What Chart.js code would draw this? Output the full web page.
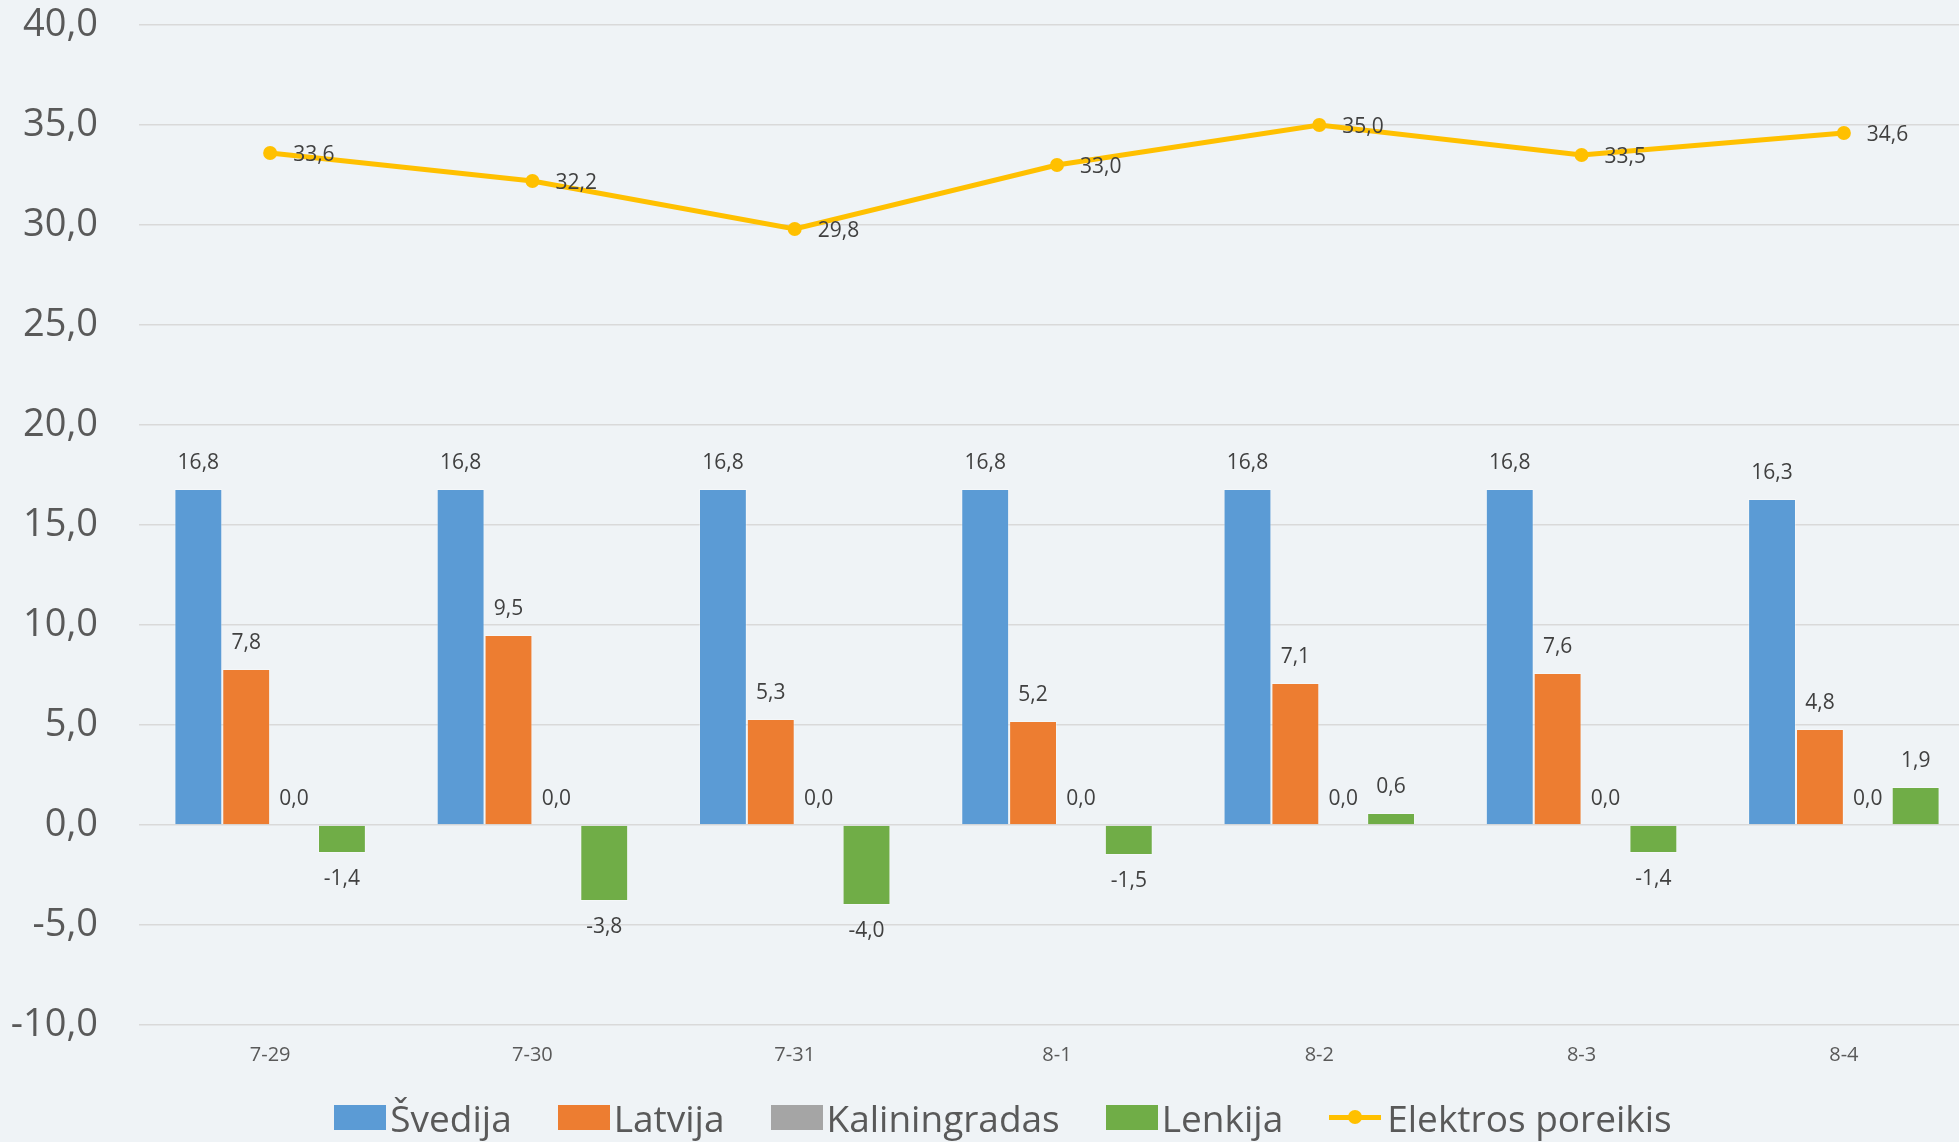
<!DOCTYPE html>
<html>
<head>
<meta charset="utf-8">
<script src="https://cdn.jsdelivr.net/npm/chart.js@4"></script>
<style>
html,body{margin:0;padding:0;background:#EFF3F6;overflow:hidden;width:1959px;height:1142px;}
#wrap{position:absolute;left:0;top:0;width:2006px;height:1142px;}
#legend{position:absolute;left:0;top:1092px;width:2006px;height:50px;display:flex;justify-content:center;align-items:center;font-family:"Open Sans",sans-serif;font-size:37px;color:#595959;white-space:nowrap;}
.item{display:flex;align-items:center;margin:0 23px;}
.box{display:inline-block;width:52px;height:25px;margin-right:4px;}
.linebox{position:relative;display:inline-block;width:52px;height:25px;margin-right:6px;}
.linebox .ln{position:absolute;left:0;top:10px;width:52px;height:5px;background:#FFC000;}
.linebox .pt{position:absolute;left:19px;top:5px;width:14px;height:14px;border-radius:50%;background:#FFC000;}
</style>
</head>
<body>
<div id="wrap"><canvas id="c"></canvas></div>
<div id="legend"></div>
<script>
const categories = ['7-29','7-30','7-31','8-1','8-2','8-3','8-4'];
const svedija = [16.8,16.8,16.8,16.8,16.8,16.8,16.3];
const latvija = [7.8,9.5,5.3,5.2,7.1,7.6,4.8];
const kaliningradas = [0,0,0,0,0,0,0];
const lenkija = [-1.4,-3.8,-4.0,-1.5,0.6,-1.4,1.9];
const poreikis = [33.6,32.2,29.8,33.0,35.0,33.5,34.6];
const seriesNames = ['Švedija','Latvija','Kaliningradas','Lenkija','Elektros poreikis'];
const seriesColors = ['#5B9BD5','#ED7D31','#A5A5A5','#70AD47','#FFC000'];
const yMin = -10, yMax = 40, yStep = 5;

const fmt = v => v.toFixed(1).replace('.', ',');
const FONT = '"Open Sans", sans-serif';

const labelPlugin = {
  id: 'valueLabels',
  afterDatasetsDraw(chart) {
    const ctx = chart.ctx;
    ctx.save();
    ctx.font = '21px ' + FONT;
    ctx.fillStyle = '#404040';
    ctx.textBaseline = 'middle';
    chart.data.datasets.forEach((ds, i) => {
      const meta = chart.getDatasetMeta(i);
      meta.data.forEach((el, j) => {
        const v = ds.data[j];
        const t = fmt(v);
        if (ds.type === 'line') {
          ctx.textAlign = 'left';
          ctx.fillText(t, el.x + 23, el.y + 2);
        } else {
          ctx.textAlign = 'center';
          if (v < 0) ctx.fillText(t, el.x, el.y + 26);
          else ctx.fillText(t, el.x, el.y - 26);
        }
      });
    });
    ctx.restore();
  }
};

const barData = [svedija, latvija, kaliningradas, lenkija];
const datasets = barData.map((d, i) => ({
  type: 'bar',
  label: seriesNames[i],
  data: d,
  backgroundColor: seriesColors[i],
  borderColor: 'rgba(255,255,255,0.35)',
  borderWidth: 1,
  order: 1,
  barPercentage: 1,
  categoryPercentage: 0.73
}));
datasets.push({
  type: 'line',
  label: seriesNames[4],
  data: poreikis,
  borderColor: seriesColors[4],
  backgroundColor: seriesColors[4],
  borderWidth: 5,
  pointRadius: 7,
  pointBorderWidth: 0,
  pointBackgroundColor: seriesColors[4],
  tension: 0,
  order: 0
});

new Chart(document.getElementById('c'), {
  type: 'bar',
  data: { labels: categories, datasets },
  plugins: [labelPlugin],
  options: {
    responsive: true,
    maintainAspectRatio: false,
    animation: false,
    layout: { padding: { left: 0, right: 31, top: 25, bottom: 57 } },
    plugins: { legend: { display: false }, tooltip: { enabled: false } },
    scales: {
      x: {
        grid: { display: false },
        border: { display: false },
        ticks: { color: '#595959', font: { family: FONT, size: 20 }, padding: 10, maxRotation: 0 },
        afterFit(s) { s.height = 60; }
      },
      y: {
        min: yMin, max: yMax,
        grid: { color: '#D9D9D9', lineWidth: 1.5, drawTicks: true, tickLength: 41, tickColor: 'rgba(0,0,0,0)' },
        border: { display: false },
        ticks: { stepSize: yStep, color: '#595959', font: { family: FONT, size: 38 }, padding: 0, callback: v => fmt(v) },
        afterFit(s) { s.width = 139; }
      }
    }
  }
});

// legend
const lg = document.getElementById('legend');
seriesNames.forEach((n, i) => {
  const it = document.createElement('div');
  it.className = 'item';
  if (i < 4) {
    const b = document.createElement('span');
    b.className = 'box';
    b.style.background = seriesColors[i];
    it.appendChild(b);
  } else {
    const b = document.createElement('span');
    b.className = 'linebox';
    b.innerHTML = '<span class="ln"></span><span class="pt"></span>';
    it.appendChild(b);
  }
  const s = document.createElement('span');
  s.textContent = n;
  it.appendChild(s);
  lg.appendChild(it);
});
</script>
</body>
</html>
